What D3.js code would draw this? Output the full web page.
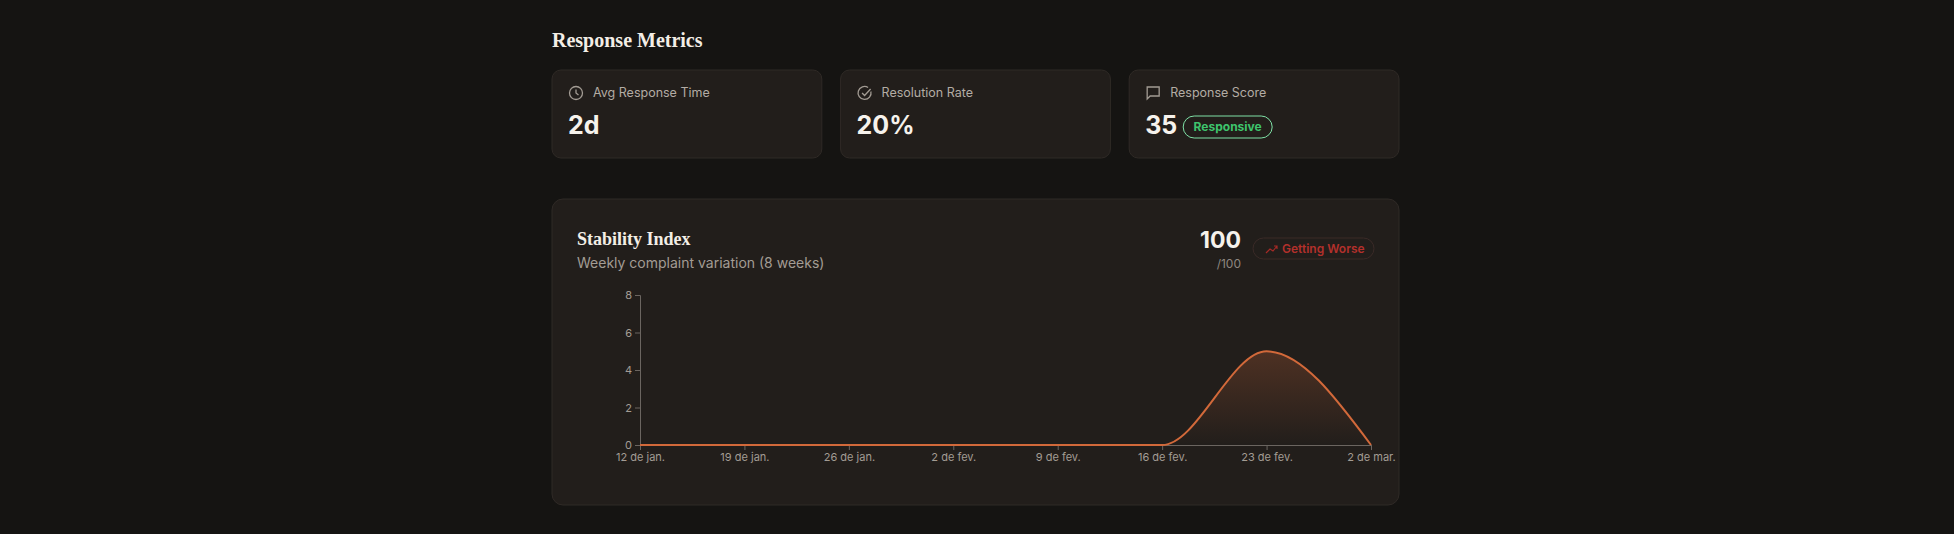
<!DOCTYPE html>
<html><head><meta charset="utf-8">
<script src="https://cdn.jsdelivr.net/npm/d3@7"></script>
<style>
body{margin:0;background:#151412;width:1954px;height:534px;overflow:hidden;font-family:Inter,"Open Sans",sans-serif;}
svg text{font-family:Inter,"Open Sans",sans-serif;}
.serif{font-family:"Liberation Serif","DejaVu Serif",serif;font-weight:bold;}
</style></head><body>
<svg id="c" width="1954" height="534"></svg>
<script>
// data
const weeks = ["2026-01-12","2026-01-19","2026-01-26","2026-02-02","2026-02-09","2026-02-16","2026-02-23","2026-03-02"];
const variation = [0, 0, 0, 0, 0, 0, 5, 0];
const yTicks = [0, 2, 4, 6, 8];
const months = ["jan.","fev.","mar.","abr.","mai.","jun.","jul.","ago.","set.","out.","nov.","dez."];
const cards = [
  {label: "Avg Response Time", value: "2d", icon: "clock"},
  {label: "Resolution Rate", value: "20%", icon: "check"},
  {label: "Response Score", value: "35", icon: "msg", badge: "Responsive"}
];

const svg = d3.select("#c");
const parse = d3.timeParse("%Y-%m-%d");
const data = weeks.map((w, i) => ({date: parse(w), v: variation[i]}));

svg.append("text").attr("class", "serif").attr("x", 552).attr("y", 47)
  .attr("fill", "#f3eee6").attr("font-size", 20).text("Response Metrics");

// metric cards
const cardX = d3.scaleBand().domain(d3.range(cards.length)).range([552, 1399]).paddingInner(0.065);
const cg = svg.selectAll(".card").data(cards).enter().append("g")
  .attr("transform", (d, i) => `translate(${cardX(i)},70)`);
cg.append("rect").attr("width", cardX.bandwidth()).attr("height", 88).attr("rx", 9)
  .attr("fill", "#221e1b").attr("stroke", "#2f2a26");
cg.each(function(d) {
  const g = d3.select(this).append("g").attr("transform", "translate(24,23)")
    .attr("fill", "none").attr("stroke", "#a39c94").attr("stroke-width", 1.3);
  if (d.icon === "clock") {
    g.append("circle").attr("r", 6.5);
    g.append("path").attr("d", "M0,-3.5V0L2.5,2");
  } else if (d.icon === "check") {
    g.append("path").attr("d", "M6.3,-1.5A6.5,6.5 0 1 1 3.5,-5.5");
    g.append("path").attr("d", "M-2.5,0L0,2.5L6,-4");
  } else {
    g.append("path").attr("d", "M-6,-6H6V3H-3L-6,6Z");
  }
});
cg.append("text").attr("x", 41).attr("y", 27).attr("fill", "#b3aca4").attr("font-size", 12.5).text(d => d.label);
cg.append("text").attr("x", 16).attr("y", 64).attr("fill", "#f6f2ec").attr("font-size", 25)
  .attr("font-weight", 700).text(d => d.value);
const bd = cg.filter(d => d.badge);
bd.append("rect").attr("x", 54).attr("y", 46).attr("width", 89).attr("height", 22).attr("rx", 11)
  .attr("fill", "none").attr("stroke", "#7fe0a6");
bd.append("text").attr("x", 98.5).attr("y", 61).attr("text-anchor", "middle").attr("fill", "#3ec46d")
  .attr("font-size", 12).attr("font-weight", 700).text(d => d.badge);

// stability panel
svg.append("rect").attr("x", 552).attr("y", 199).attr("width", 847).attr("height", 306).attr("rx", 11)
  .attr("fill", "#221e1b").attr("stroke", "#2f2a26");
svg.append("text").attr("class", "serif").attr("x", 577).attr("y", 245).attr("fill", "#f3eee6")
  .attr("font-size", 18).text("Stability Index");
svg.append("text").attr("x", 577).attr("y", 268).attr("fill", "#a39c94").attr("font-size", 14)
  .text("Weekly complaint variation (8 weeks)");
svg.append("text").attr("x", 1241).attr("y", 248).attr("text-anchor", "end").attr("fill", "#f6f2ec")
  .attr("font-size", 23).attr("font-weight", 700).text("100");
svg.append("text").attr("x", 1241).attr("y", 268).attr("text-anchor", "end").attr("fill", "#8e8780")
  .attr("font-size", 12).text("/100");
svg.append("rect").attr("x", 1253).attr("y", 238).attr("width", 121).attr("height", 21).attr("rx", 10.5)
  .attr("fill", "none").attr("stroke", "#3a2a27");
svg.append("path").attr("d", "M1266,253L1270,249L1273,251L1277,246M1274,246H1277V249")
  .attr("fill", "none").attr("stroke", "#a52a26").attr("stroke-width", 1.2);
svg.append("text").attr("x", 1282).attr("y", 253).attr("fill", "#b3302b").attr("font-size", 12)
  .attr("font-weight", 600).text("Getting Worse");

const x = d3.scaleTime().domain(d3.extent(data, d => d.date)).range([640, 1371]);
const y = d3.scaleLinear().domain([0, 8]).range([445, 295]);

const defs = svg.append("defs");
const grad = defs.append("linearGradient").attr("id", "fillg").attr("x1", 0).attr("y1", 0).attr("x2", 0).attr("y2", 1);
grad.append("stop").attr("offset", "0%").attr("stop-color", "#d2693a").attr("stop-opacity", 0.25);
grad.append("stop").attr("offset", "100%").attr("stop-color", "#d2693a").attr("stop-opacity", 0);

const fmt = d => `${d.getDate()} de ${months[d.getMonth()]}`;
const xa = svg.append("g").attr("transform", `translate(0,${y(0)})`)
  .call(d3.axisBottom(x).tickValues(data.map(d => d.date)).tickFormat(fmt).tickSize(5));
const ya = svg.append("g").attr("transform", `translate(${x.range()[0]},0)`)
  .call(d3.axisLeft(y).tickValues(yTicks).tickSize(5));
[xa, ya].forEach(a => {
  a.selectAll("path,line").attr("stroke", "#6b6560");
  a.selectAll("text").attr("fill", "#a39c94").attr("font-size", 11);
});

const curve = d3.curveMonotoneX;
svg.append("path").datum(data).attr("fill", "url(#fillg)")
  .attr("d", d3.area().x(d => x(d.date)).y0(y(0)).y1(d => y(d.v)).curve(curve));
svg.append("path").datum(data).attr("fill", "none").attr("stroke", "#d2693a").attr("stroke-width", 2)
  .attr("d", d3.line().x(d => x(d.date)).y(d => y(d.v)).curve(curve));
</script></body></html>
